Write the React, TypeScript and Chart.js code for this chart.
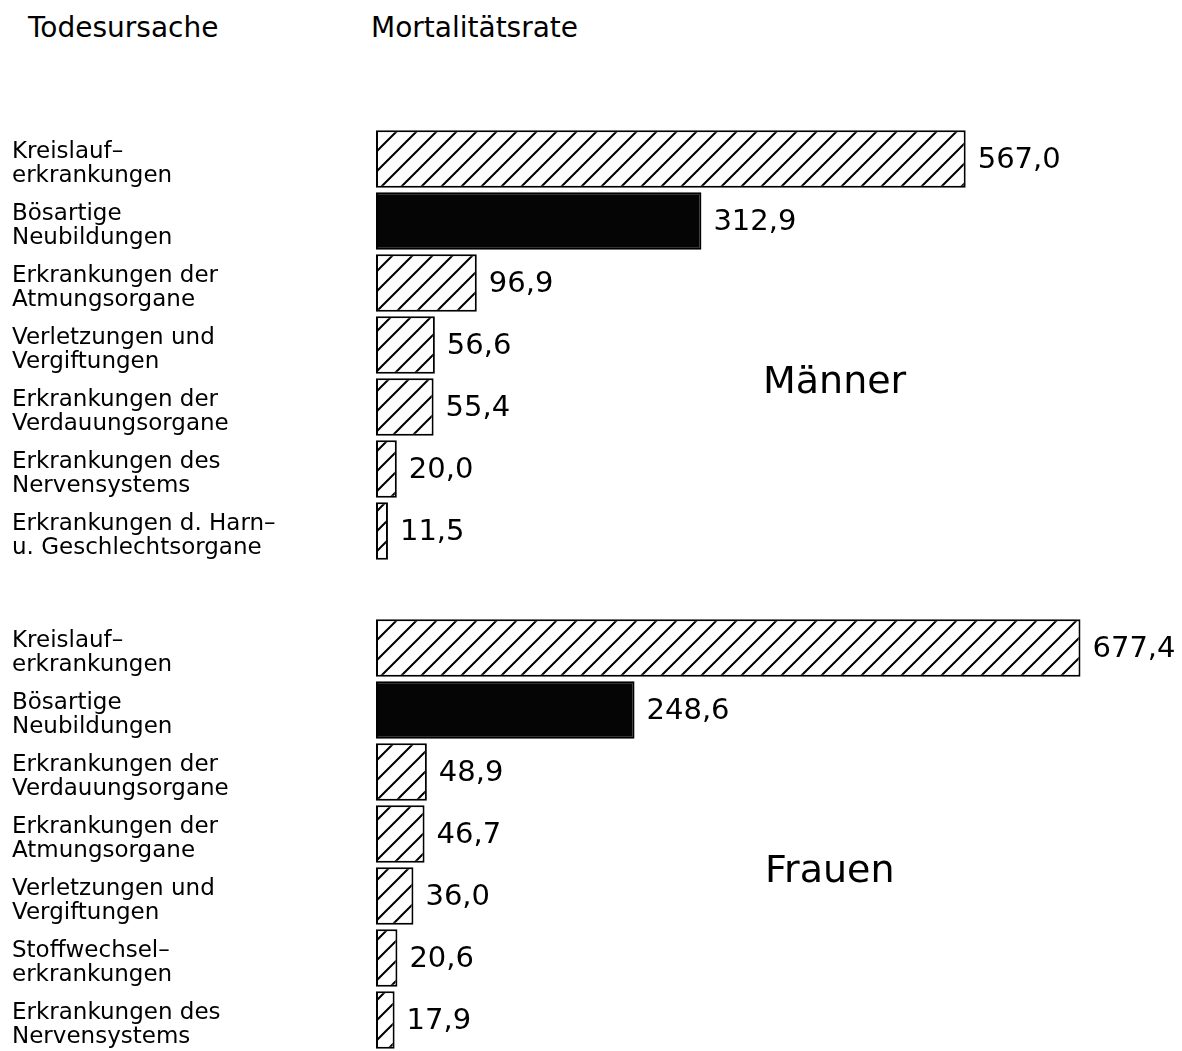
import React, { useEffect, useRef } from "react";
import { Chart, registerables } from "chart.js";

Chart.register(...registerables);

const FONT = '"DejaVu Sans", sans-serif';

const headerCause = "Todesursache";
const headerRate = "Mortalitätsrate";

const maleTitle = "Männer";
const maleCategories: string[][] = [
  ["Kreislauf–", "erkrankungen"],
  ["Bösartige", "Neubildungen"],
  ["Erkrankungen der", "Atmungsorgane"],
  ["Verletzungen und", "Vergiftungen"],
  ["Erkrankungen der", "Verdauungsorgane"],
  ["Erkrankungen des", "Nervensystems"],
  ["Erkrankungen d. Harn–", "u. Geschlechtsorgane"],
];
const maleValues: number[] = [567.0, 312.9, 96.9, 56.6, 55.4, 20.0, 11.5];

const femaleTitle = "Frauen";
const femaleCategories: string[][] = [
  ["Kreislauf–", "erkrankungen"],
  ["Bösartige", "Neubildungen"],
  ["Erkrankungen der", "Verdauungsorgane"],
  ["Erkrankungen der", "Atmungsorgane"],
  ["Verletzungen und", "Vergiftungen"],
  ["Stoffwechsel–", "erkrankungen"],
  ["Erkrankungen des", "Nervensystems"],
];
const femaleValues: number[] = [677.4, 248.6, 48.9, 46.7, 36.0, 20.6, 17.9];

// the category drawn solid black (malignant neoplasms)
const solidCategory = "Bösartige";

const fmt = (v: number) => v.toFixed(1).replace(".", ",");

function makeHatch(): CanvasPattern | string {
  const c = document.createElement("canvas");
  c.width = 20;
  c.height = 20;
  const g = c.getContext("2d");
  if (!g) return "#fff";
  g.fillStyle = "#fff";
  g.fillRect(0, 0, 20, 20);
  g.strokeStyle = "#000";
  g.lineWidth = 2;
  g.beginPath();
  g.moveTo(-5, 25);
  g.lineTo(25, -5);
  g.moveTo(-5, 5);
  g.lineTo(5, -5);
  g.moveTo(15, 25);
  g.lineTo(25, 15);
  g.stroke();
  return g.createPattern(c, "repeat") || "#fff";
}

type GroupProps = {
  labels: string[][];
  values: number[];
  title: string;
  titleX: number;
  top: number;
};

function GroupChart({ labels, values, title, titleX, top }: GroupProps) {
  const ref = useRef<HTMLCanvasElement>(null);
  useEffect(() => {
    if (!ref.current) return;
    const hatch = makeHatch();
    const labelPlugin = {
      id: "valueLabels",
      afterDatasetsDraw(chart: any) {
        const ctx = chart.ctx as CanvasRenderingContext2D;
        const meta = chart.getDatasetMeta(0);
        const data = chart.data.datasets[0].data as number[];
        ctx.save();
        ctx.fillStyle = "#000";
        ctx.font = `29px ${FONT}`;
        ctx.textAlign = "left";
        ctx.textBaseline = "middle";
        meta.data.forEach((el: any, i: number) => {
          ctx.fillText(fmt(data[i]), el.x + 12, el.y + 1);
        });
        ctx.font = `38px ${FONT}`;
        ctx.textBaseline = "alphabetic";
        ctx.fillText(title, titleX, 265);
        ctx.restore();
      },
    };
    const chart = new Chart(ref.current, {
      type: "bar",
      data: {
        labels,
        datasets: [
          {
            data: values,
            backgroundColor: labels.map((l) => (l[0] === solidCategory ? "#050505" : hatch)) as any,
            borderColor: "#000",
            borderWidth: 2,
            borderSkipped: false,
            barPercentage: 0.93,
            categoryPercentage: 1,
          },
        ],
      },
      options: {
        indexAxis: "y",
        responsive: false,
        animation: false,
        devicePixelRatio: 1,
        layout: { padding: { left: 12, right: 0, top: 0, bottom: 0 } },
        plugins: { legend: { display: false }, tooltip: { enabled: false } },
        scales: {
          x: { display: false, min: 0, max: 775 },
          y: {
            grid: { display: false },
            border: { display: false },
            ticks: {
              crossAlign: "far",
              autoSkip: false,
              color: "#000",
              padding: 0,
              labelOffset: 5,
              font: { family: FONT, size: 23, lineHeight: 1.02 },
            },
            afterFit: (s: any) => {
              s.width = 364;
              s.paddingTop = 0;
              s.paddingBottom = 0;
            },
          },
        },
      } as any,
      plugins: [labelPlugin],
    });
    return () => chart.destroy();
  }, []);
  return (
    <canvas
      ref={ref}
      width={1182}
      height={434}
      style={{ position: "absolute", left: 0, top, width: 1182, height: 434 }}
    />
  );
}

export default function App() {
  const headerStyle: React.CSSProperties = {
    position: "absolute",
    top: 14,
    fontFamily: FONT,
    fontSize: 28,
    lineHeight: "28px",
    color: "#000",
    whiteSpace: "nowrap",
  };
  return (
    <div
      style={{
        position: "absolute",
        left: 0,
        top: 0,
        width: 1182,
        height: 1051,
        background: "#fff",
        overflow: "hidden",
      }}
    >
      <div style={{ ...headerStyle, left: 28 }}>{headerCause}</div>
      <div style={{ ...headerStyle, left: 371 }}>{headerRate}</div>
      <GroupChart labels={maleCategories} values={maleValues} title={maleTitle} titleX={763} top={128} />
      <GroupChart labels={femaleCategories} values={femaleValues} title={femaleTitle} titleX={765} top={617} />
    </div>
  );
}
